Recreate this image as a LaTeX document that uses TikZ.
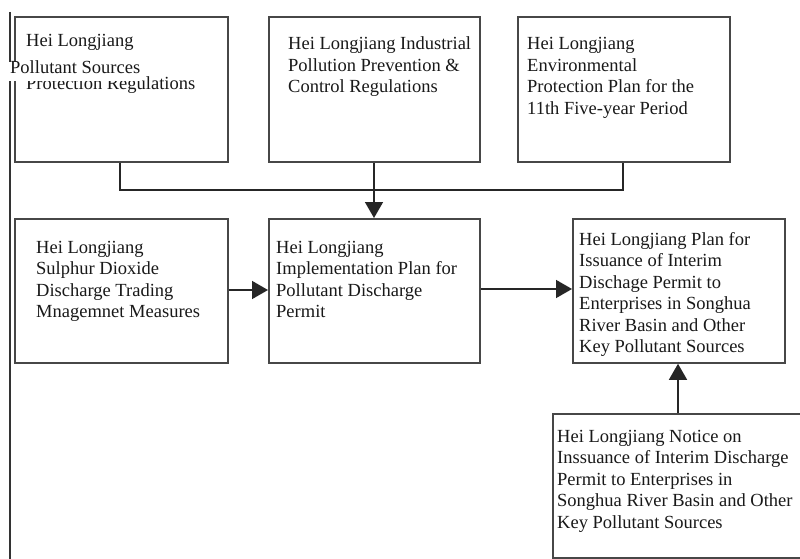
\documentclass[tikz,border=0pt]{standalone}
\usepackage{fontspec}
\setmainfont{Liberation Serif}
\usetikzlibrary{arrows.meta}
\newcommand\tlines[1]{\vtop{\baselineskip=21.5pt\lineskiplimit=-20pt #1}}
\tikzset{
  box/.style={draw=black!72, line width=1.8pt, rectangle, inner sep=0pt},
  txt/.style={inner sep=0pt, anchor=base west, font=\fontsize{18.5}{21.5}\selectfont, text=black!90},
  link/.style={draw=black!85, line width=1.5pt},
  arr/.style={link, -{Triangle[length=16pt,width=18pt]}}
}
\begin{document}
\begin{tikzpicture}[x=1pt,y=-1pt]
\useasboundingbox (0,0) rectangle (800,559);
\clip (0,0) rectangle (800,559);
\fill[white] (0,0) rectangle (800,559);
% left rule
\coordinate (ra) at (10,12);
\coordinate (rb) at (10,560);
\draw[draw=black!80, line width=2.2pt] (ra) -- (rb);
% boxes
\node[box, minimum width=213pt, minimum height=145pt, anchor=north west] (b1) at (14,16) {};
\node[box, minimum width=211pt, minimum height=145pt, anchor=north west] (b2) at (268,16) {};
\node[box, minimum width=212pt, minimum height=145pt, anchor=north west] (b3) at (517,16) {};
\node[box, minimum width=213pt, minimum height=144pt, anchor=north west] (b4) at (14,218) {};
\node[box, minimum width=211pt, minimum height=144pt, anchor=north west] (b5) at (268,218) {};
\node[box, minimum width=212pt, minimum height=144pt, anchor=north west] (b6) at (572,218) {};
\node[box, minimum width=270pt, minimum height=144pt, anchor=north west] (b7) at (552,413) {};
% texts
\node[txt] (t1a) at (26,47) {\tlines{\hbox{Hei Longjiang}}};
\node[txt] (t1c) at (26,90) {\tlines{\hbox{Protection Regulations}}};
\node[txt, fill=white, inner xsep=2pt, text height=12pt, text depth=7pt] (t1b) at (8,74) {Pollutant Sources};
\node[txt] (t2) at (288,50) {\tlines{\hbox{Hei Longjiang Industrial}\hbox{Pollution Prevention \&}\hbox{Control Regulations}}};
\node[txt] (t3) at (527,50) {\tlines{\hbox{Hei Longjiang}\hbox{Environmental}\hbox{Protection Plan for the}\hbox{11th Five-year Period}}};
\node[txt] (t4) at (36,253) {\tlines{\hbox{Hei Longjiang}\hbox{Sulphur Dioxide}\hbox{Discharge Trading}\hbox{Mnagemnet Measures}}};
\node[txt] (t5) at (276,253) {\tlines{\hbox{Hei Longjiang}\hbox{Implementation Plan for}\hbox{Pollutant Discharge}\hbox{Permit}}};
\node[txt] (t6) at (579,245) {\tlines{\hbox{Hei Longjiang Plan for}\hbox{Issuance of Interim}\hbox{Dischage Permit to}\hbox{Enterprises in Songhua}\hbox{River Basin and Other}\hbox{Key Pollutant Sources}}};
\node[txt] (t7) at (557,442) {\tlines{\hbox{Hei Longjiang Notice on}\hbox{Inssuance of Interim Discharge}\hbox{Permit to Enterprises in}\hbox{Songhua River Basin and Other}\hbox{Key Pollutant Sources}}};
% connectors
\coordinate (j1) at (120,190);
\coordinate (j3) at (623,190);
\draw[link] (b1.south -| j1) -- (j1) -- (j3) -- (b3.south -| j3);
\draw[arr] (b2.south -| 374,0) -- (b5.north -| 374,0);
\draw[arr] (b4.east |- 0,290) -- (b5.west |- 0,290);
\draw[arr] (b5.east |- 0,289) -- (b6.west |- 0,289);
\draw[arr] (b7.north -| 678,0) -- (b6.south -| 678,0);
\end{tikzpicture}
\end{document}
